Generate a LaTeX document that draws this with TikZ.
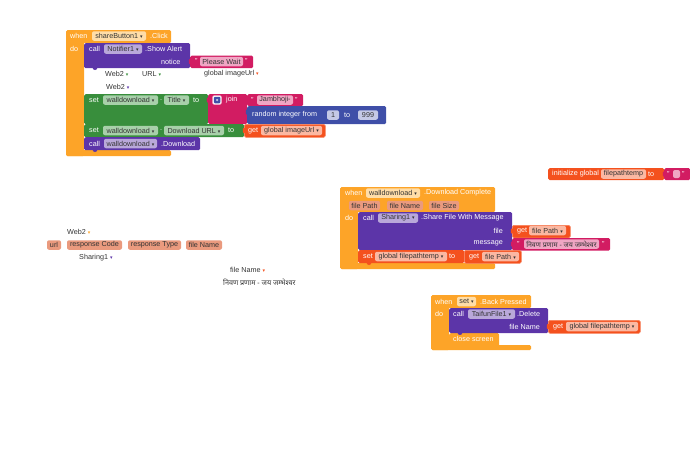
\documentclass[tikz,border=0pt]{standalone}
\usepackage{xcolor}
\usepackage{fontspec}
\setmainfont{Liberation Sans}
\newfontfamily\symfont{DejaVu Sans}
\newfontfamily\devafont[Script=Devanagari]{Noto Sans}
\definecolor{evt}{HTML}{FDA428}
\definecolor{cal}{HTML}{5C35A8}
\definecolor{txt}{HTML}{D21C62}
\definecolor{prop}{HTML}{388E3C}
\definecolor{mth}{HTML}{3F4FA8}
\definecolor{vari}{HTML}{F4511E}
\definecolor{evtp}{HTML}{FFDDA8}
\definecolor{calp}{HTML}{B9A8DA}
\definecolor{txtp}{HTML}{F0A6C4}
\definecolor{propp}{HTML}{A8D0AA}
\definecolor{mthp}{HTML}{C4C9E6}
\definecolor{varip}{HTML}{FBB8A2}
\definecolor{parm}{HTML}{EA9A7E}
\definecolor{ink}{HTML}{333333}
\newcommand{\ddn}[1]{\textcolor{#1}{\symfont\fontsize{5}{5}\selectfont ▾}}
\tikzset{
  block/.style={anchor=north west,inner sep=0pt,rounded corners=1.5pt},
  edged/.style={block,draw=#1!72!white,line width=.6pt,fill=#1},
  lab/.style={anchor=west,inner sep=0pt,font=\fontsize{7.2}{8}\selectfont,text=white},
  rlab/.style={lab,anchor=east},
  gray lab/.style={lab,text=ink},
  pill/.style={inner sep=0pt,rounded corners=2pt,minimum height=9.5pt,font=\fontsize{7.2}{8}\selectfont,text=ink},
  plug/.style={inner sep=0pt,minimum width=2.5pt,minimum height=5pt,rounded corners=.8pt},
  notch/.style={circle,inner sep=0pt,minimum size=5pt}
}
\begin{document}
\begin{tikzpicture}[x=1pt,y=-1pt]
  \useasboundingbox (0,0) rectangle (690,466);

  % first event
  \node (click) at (66,30) [block,fill=evt,minimum width=105pt,minimum height=13pt] {};
  \node (clickl) at (66,30) [block,fill=evt,minimum width=18pt,minimum height=126pt] {};
  \node (clickb) at (66,150) [block,fill=evt,minimum width=105pt,minimum height=6pt] {};
  \node (alert) at (84,43) [block,fill=cal,minimum width=106pt,minimum height=25pt] {};
  \node (alertn) at (95,68) [notch,fill=cal,yshift=0.5pt] {};
  \node (wait) at (190,55.5) [block,fill=txt,minimum width=63pt,minimum height=12.5pt] {};
  \node (waitp) at (190,61.5) [plug,fill=txt] {};
  \node (title) at (84,94) [block,fill=prop,minimum width=124pt,minimum height=30pt] {};
  \node (join) at (208,94) [block,fill=txt,minimum width=39pt,minimum height=30pt] {};
  \node (joinp) at (208,100) [plug,fill=txt] {};
  \node (jam) at (247,94) [block,fill=txt,minimum width=56pt,minimum height=12pt] {};
  \node (rnd) at (247,106) [block,fill=mth,minimum width=139pt,minimum height=18pt] {};
  \node (rndp) at (247,112) [plug,fill=mth] {};
  \node (url) at (84,124) [block,fill=prop,minimum width=160pt,minimum height=13pt] {};
  \node (geturl) at (244,124) [edged=vari,minimum width=81pt,minimum height=13pt] {};
  \node (geturlp) at (244,130.5) [plug,fill=vari] {};
  \node (dl) at (84,137) [block,fill=cal,minimum width=116pt,minimum height=13pt] {};
  \node (dln) at (95,150) [notch,fill=cal,yshift=0.5pt] {};

  \node (when1) at (70,36) [lab] {when};
  \node (share) at (119,36) [pill,fill=evtp,minimum width=54pt] {shareButton1 \ddn{ink}};
  \node (clk) at (150,36) [lab] {.Click};
  \node (do1) at (70,48.5) [lab] {do};
  \node (call1) at (89,49) [lab] {call};
  \node (noti) at (123,49) [pill,fill=calp,minimum width=38pt] {Notifier1 \ddn{ink}};
  \node (show) at (145,49) [lab] {.Show Alert};
  \node (notice) at (161,61.5) [lab] {notice};
  \node (q1) at (195,61.5) [lab] {"};
  \node (please) at (221.5,61.5) [pill,fill=txtp,minimum width=43pt] {Please Wait};
  \node (q2) at (245,61.5) [lab] {"};
  \node (web2a) at (105,74) [gray lab] {Web2 \ddn{prop}};
  \node (urla) at (142,74) [gray lab] {URL \ddn{prop}};
  \node (img) at (204,74) [gray lab] {global imageUrl \ddn{vari}};
  \node (web2b) at (106,86.5) [gray lab] {Web2 \ddn{cal}};

  \node (set1) at (89,100) [lab] {set};
  \node (wd1) at (130.5,100) [pill,fill=propp,minimum width=55pt] {walldownload \ddn{ink}};
  \node (dot1) at (160,100) [lab] {.};
  \node (ttl) at (176.5,100) [pill,fill=propp,minimum width=25pt] {Title \ddn{ink}};
  \node (to1) at (193,100) [lab] {to};
  \node (gear) at (217,100) [fill=white,draw=txtp,line width=.5pt,rounded corners=2pt,inner sep=0pt,minimum size=9pt] {};
  \node (gearin) at (217,100) [fill=mth,rounded corners=1pt,inner sep=0pt,minimum size=6.5pt] {};
  \node (gearc) at (217,100) [circle,fill=mthp,inner sep=0pt,minimum size=2.5pt] {};
  \node (jn) at (226,100) [lab] {join};
  \node (q3) at (251,100) [lab] {"};
  \node (jamb) at (275,100) [pill,fill=txtp,minimum width=36pt] {Jambhoji-};
  \node (q4) at (295,100) [lab] {"};
  \node (rndl) at (252,115) [lab] {random integer from};
  \node (one) at (333,115) [pill,fill=mthp,minimum width=12pt] {1};
  \node (to2) at (344,115) [lab] {to};
  \node (nine) at (368,115) [pill,fill=mthp,minimum width=20pt] {999};

  \node (set2) at (89,130.5) [lab] {set};
  \node (wd2) at (130.5,130.5) [pill,fill=propp,minimum width=55pt] {walldownload \ddn{ink}};
  \node (dot2) at (160,130.5) [lab] {.};
  \node (dlu) at (194,130.5) [pill,fill=propp,minimum width=60pt] {Download URL \ddn{ink}};
  \node (to3) at (228,130.5) [lab] {to};
  \node (get1) at (248,130.5) [lab] {get};
  \node (gimg) at (291.5,130.5) [pill,fill=varip,minimum width=61pt] {global imageUrl \ddn{ink}};
  \node (call2) at (89,143.5) [lab] {call};
  \node (wd3) at (130.5,143.5) [pill,fill=calp,minimum width=53pt] {walldownload \ddn{ink}};
  \node (dls) at (161,143.5) [lab] {.Download};

  % global
  \node (init) at (548,168) [block,fill=vari,minimum width=116pt,minimum height=12pt] {};
  \node (empty) at (664,168) [block,fill=txt,minimum width=26pt,minimum height=12pt] {};
  \node (emptyp) at (664,174) [plug,fill=txt] {};
  \node (initl) at (552,174) [lab] {initialize global};
  \node (fpt) at (623.5,174) [pill,fill=varip,minimum width=45pt] {filepathtemp};
  \node (to4) at (648,174) [lab] {to};
  \node (q5) at (667,174) [lab] {"};
  \node (e1) at (676.5,174) [pill,fill=txtp,minimum width=7pt,minimum height=8pt] {};
  \node (q6) at (682,174) [lab] {"};

  % second event
  \node (comp) at (340,187) [block,fill=evt,minimum width=155pt,minimum height=25pt] {};
  \node (compl) at (340,187) [block,fill=evt,minimum width=18pt,minimum height=82pt] {};
  \node (compb) at (340,263) [block,fill=evt,minimum width=155pt,minimum height=6pt] {};
  \node (sharef) at (358,212) [block,fill=cal,minimum width=154pt,minimum height=38pt] {};
  \node (getf) at (512,225) [edged=vari,minimum width=58pt,minimum height=12.5pt] {};
  \node (getfp) at (512,231) [plug,fill=vari] {};
  \node (msg) at (512,238) [block,fill=txt,minimum width=98pt,minimum height=12.5pt] {};
  \node (msgp) at (512,244) [plug,fill=txt] {};
  \node (setf) at (358,250) [block,fill=vari,minimum width=106pt,minimum height=13pt] {};
  \node (getg) at (464,250) [edged=vari,minimum width=57pt,minimum height=13pt] {};
  \node (setfn) at (369,263) [notch,fill=vari,yshift=0.5pt] {};

  \node (when2) at (345,193) [lab] {when};
  \node (wd4) at (393,193) [pill,fill=evtp,minimum width=54pt] {walldownload \ddn{ink}};
  \node (dcomp) at (424,193) [lab] {.Download Complete};
  \node (fp) at (364.5,205.5) [pill,fill=parm,minimum width=31pt] {file Path};
  \node (fn) at (405,205.5) [pill,fill=parm,minimum width=36pt] {file Name};
  \node (fs) at (444,205.5) [pill,fill=parm,minimum width=30pt] {file Size};
  \node (do2) at (345,217.5) [lab] {do};
  \node (call3) at (363,218) [lab] {call};
  \node (shr) at (398,218) [pill,fill=calp,minimum width=40pt] {Sharing1 \ddn{ink}};
  \node (sfm) at (421,218) [lab] {.Share File With Message};
  \node (file) at (503,230.5) [rlab] {file};
  \node (mess) at (503,243.5) [rlab] {message};
  \node (get2) at (517,230.5) [lab] {get};
  \node (fp2) at (547.5,230.5) [pill,fill=varip,minimum width=37pt] {file Path \ddn{ink}};
  \node (q7) at (517,244) [lab] {"};
  \node (hin1) at (561.5,244) [pill,fill=txtp,minimum width=75pt,font=\fontsize{7}{8}\selectfont] {\devafont निवण प्रणाम - जय जम्भेश्वर};
  \node (q8) at (602,244) [lab] {"};
  \node (set3) at (363,256.5) [lab] {set};
  \node (gfp) at (411,256.5) [pill,fill=varip,minimum width=72pt] {global filepathtemp \ddn{ink}};
  \node (to5) at (449,256.5) [lab] {to};
  \node (get3) at (469,256.5) [lab] {get};
  \node (fp3) at (500.5,256.5) [pill,fill=varip,minimum width=37pt] {file Path \ddn{ink}};

  % loose labels
  \node (web2c) at (67,232) [gray lab] {Web2 \ddn{evt}};
  \node (p1) at (54,245) [pill,fill=parm,minimum width=14pt] {url};
  \node (p2) at (94.5,245) [pill,fill=parm,minimum width=55pt] {response Code};
  \node (p3) at (154.5,245) [pill,fill=parm,minimum width=53pt] {response Type};
  \node (p4) at (204,245) [pill,fill=parm,minimum width=36pt] {file Name};
  \node (shr2) at (79,258) [gray lab] {Sharing1 \ddn{cal}};
  \node (fn2) at (230,270) [gray lab] {file Name \ddn{vari}};
  \node (hin2) at (223,282.5) [gray lab] {\devafont निवण प्रणाम - जय जम्भेश्वर};

  % third event
  \node (back) at (431,295) [block,fill=evt,minimum width=100pt,minimum height=13pt] {};
  \node (backl) at (431,295) [block,fill=evt,minimum width=18pt,minimum height=55pt] {};
  \node (backb) at (431,345) [block,fill=evt,minimum width=100pt,minimum height=5pt] {};
  \node (close) at (449,333) [block,fill=evt,minimum width=50pt,minimum height=14pt] {};
  \node (del) at (449,308) [block,fill=cal,minimum width=99pt,minimum height=25pt] {};
  \node (deln) at (460,333) [notch,fill=cal,yshift=0.5pt] {};
  \node (getp) at (548,320) [edged=vari,minimum width=92pt,minimum height=13pt] {};
  \node (getpp) at (548,326.5) [plug,fill=vari] {};

  \node (when3) at (435,301.5) [lab] {when};
  \node (set4) at (466.5,301.5) [pill,fill=evtp,minimum width=19pt] {set \ddn{ink}};
  \node (bp) at (480,301.5) [lab] {.Back Pressed};
  \node (do3) at (435,314) [lab] {do};
  \node (call4) at (453,314) [lab] {call};
  \node (tf) at (491.5,314) [pill,fill=calp,minimum width=47pt] {TaifunFile1 \ddn{ink}};
  \node (dels) at (517,314) [lab] {.Delete};
  \node (fn3) at (540,326.5) [rlab] {file Name};
  \node (get4) at (553,326.5) [lab] {get};
  \node (gfp2) at (602,326.5) [pill,fill=varip,minimum width=72pt] {global filepathtemp \ddn{ink}};
  \node (cls) at (453,339) [lab] {close screen};
\end{tikzpicture}
\end{document}
